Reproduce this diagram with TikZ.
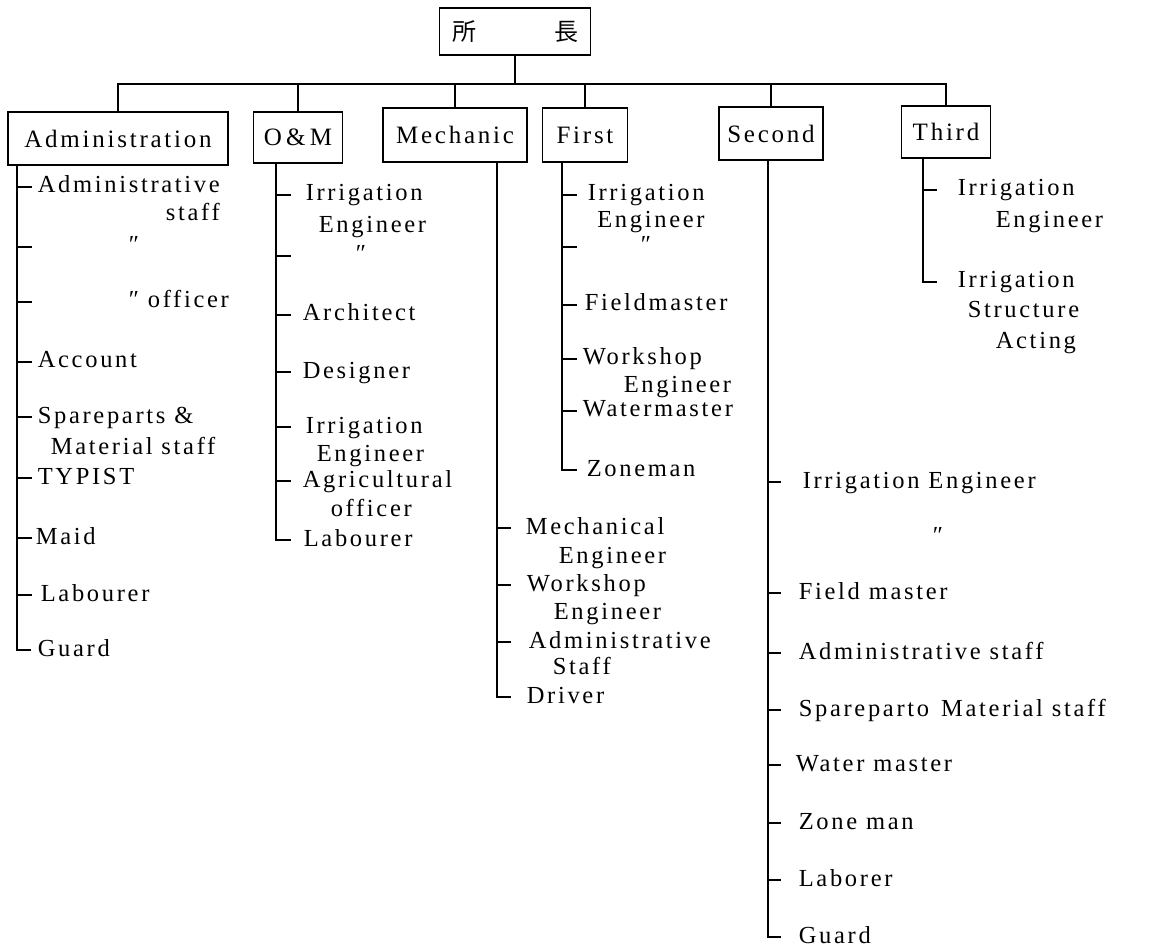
\documentclass[tikz,border=0pt]{standalone}
\usepackage{fontspec}
\setmainfont{Liberation Serif}[LetterSpace=11]
\newfontfamily\cjk{Noto Sans CJK JP}
\tikzset{
  dept/.style={draw, line width=1.4pt, inner sep=0pt, font=\fontsize{25}{27}\selectfont},
  lbl/.style={anchor=west, inner sep=0pt, text height=16pt, text depth=4pt, font=\fontsize{24.5}{26}\selectfont},
  spine/.style={line width=1.8pt},
}
\begin{document}
\begin{tikzpicture}[x=1pt,y=-1pt,line width=1.6pt]
    \useasboundingbox (0,0) rectangle (1151,949);
    % head and departments
    \node[dept, minimum width=151pt, minimum height=47pt] (boss) at (515,31.5) {\cjk\fontsize{24}{24}\selectfont 所\hspace{78pt}長};
    \node[dept, minimum width=220pt, minimum height=53pt] (adm)    at (118,138.5) {Administration};
    \node[dept, minimum width=89pt,  minimum height=51pt] (om)     at (298,137.5) {O\,\&\,M};
    \node[dept, minimum width=144pt, minimum height=54pt] (mech)   at (455,135)   {Mechanic};
    \node[dept, minimum width=85pt,  minimum height=54pt] (first)  at (585,135)   {First};
    \node[dept, minimum width=104pt, minimum height=53pt] (second) at (771,133.5) {Second};
    \node[dept, minimum width=89pt,  minimum height=52pt] (third)  at (946,132)   {Third};
    \coordinate (bus) at (0,84);
    \foreach \d in {adm,om,mech,first,second,third}
        \draw (boss.south) -- (boss.south |- bus) -| (\d.north);

    % Administration
    \coordinate (admsp) at (17,0);
    \node[lbl] (adm1) at (37,187) {Administrative};
    \node[lbl, anchor=east] (adm1b) at (adm1.east |- 0,215) {staff};
    \node[lbl] (adm2) at (128,247) {″};
    \node[lbl] (adm3) at (128,302) {″ officer};
    \node[lbl] (adm4) at (37,362) {Account};
    \node[lbl] (adm5) at (37,417) {Spareparts \&};
    \node[lbl] (adm5b) at (50,448) {Material staff};
    \node[lbl] (adm6) at (37,478) {TYPIST};
    \node[lbl] (adm7) at (35,538) {Maid};
    \node[lbl] (adm8) at (40,595) {Labourer};
    \node[lbl] (adm9) at (37,650) {Guard};
    \foreach \n in {adm1,adm2,adm3,adm4,adm5,adm6,adm7,adm8}
        \draw (admsp |- \n) -- ++(15,0);
    \draw[spine] (adm.south -| admsp) -- (admsp |- adm9) -- ++(14,0);

    % O&M
    \coordinate (omsp) at (276,0);
    \node[lbl] (om1) at (305,195) {Irrigation};
    \node[lbl] (om1b) at (318,227) {Engineer};
    \node[lbl] (om2) at (355,256) {″};
    \node[lbl] (om3) at (302,315) {Architect};
    \node[lbl] (om4) at (302,372) {Designer};
    \node[lbl] (om5) at (305,427) {Irrigation};
    \node[lbl] (om5b) at (316,455) {Engineer};
    \node[lbl] (om6) at (302,481) {Agricultural};
    \node[lbl] (om6b) at (330,510) {officer};
    \node[lbl] (om7) at (303,540) {Labourer};
    \foreach \n in {om1,om2,om3,om4,om5,om6}
        \draw (omsp |- \n) -- ++(15,0);
    \draw[spine] (om.south -| omsp) -- (omsp |- om7) -- ++(15,0);

    % Mechanic
    \coordinate (mesp) at (497,0);
    \node[lbl] (me1) at (525,528) {Mechanical};
    \node[lbl] (me1b) at (558,557) {Engineer};
    \node[lbl] (me2) at (526,585) {Workshop};
    \node[lbl] (me2b) at (553,613) {Engineer};
    \node[lbl] (me3) at (528,642) {Administrative};
    \node[lbl] (me3b) at (552,668) {Staff};
    \node[lbl] (me4) at (526,697) {Driver};
    \foreach \n in {me1,me2,me3}
        \draw (mesp |- \n) -- ++(14,0);
    \draw[spine] (mech.south -| mesp) -- (mesp |- me4) -- ++(14,0);

    % First
    \coordinate (fisp) at (562,0);
    \node[lbl] (fi1) at (587,195) {Irrigation};
    \node[lbl, anchor=east] (fi1b) at (fi1.east |- 0,222) {Engineer};
    \node[lbl] (fi2) at (640,247) {″};
    \node[lbl] (fi3) at (584,305) {Fieldmaster};
    \node[lbl] (fi4) at (582,359) {Workshop};
    \node[lbl] (fi4b) at (623,386) {Engineer};
    \node[lbl] (fi5) at (582,411) {Watermaster};
    \node[lbl] (fi6) at (586,470) {Zoneman};
    \foreach \n in {fi1,fi2,fi3,fi4,fi5}
        \draw (fisp |- \n) -- ++(15,0);
    \draw[spine] (first.south -| fisp) -- (fisp |- fi6) -- ++(15,0);

    % Second
    \coordinate (sesp) at (768,0);
    \node[lbl] (se1) at (802,482) {Irrigation Engineer};
    \node[lbl] (se2) at (932,537) {″};
    \node[lbl] (se3) at (798,593) {Field master};
    \node[lbl] (se4) at (798,653) {Administrative staff};
    \node[lbl] (se5) at (798,710) {Spareparto\hspace{12pt}Material staff};
    \node[lbl] (se6) at (795,765) {Water master};
    \node[lbl] (se7) at (798,823) {Zone man};
    \node[lbl] (se8) at (798,880) {Laborer};
    \node[lbl] (se9) at (798,937) {Guard};
    \foreach \n in {se1,se3,se4,se5,se6,se7,se8}
        \draw (sesp |- \n) -- ++(13,0);
    \draw[spine] (second.south -| sesp) -- (sesp |- se9) -- ++(13,0);

    % Third
    \coordinate (thsp) at (923,0);
    \node[lbl] (th1) at (957,190) {Irrigation};
    \node[lbl] (th1b) at (995,222) {Engineer};
    \node[lbl] (th2) at (957,282) {Irrigation};
    \node[lbl] (th2b) at (967,312) {Structure};
    \node[lbl] (th2c) at (995,343) {Acting};
    \draw (thsp |- th1) -- ++(14,0);
    \draw[spine] (third.south -| thsp) -- (thsp |- th2) -- ++(14,0);
\end{tikzpicture}
\end{document}
